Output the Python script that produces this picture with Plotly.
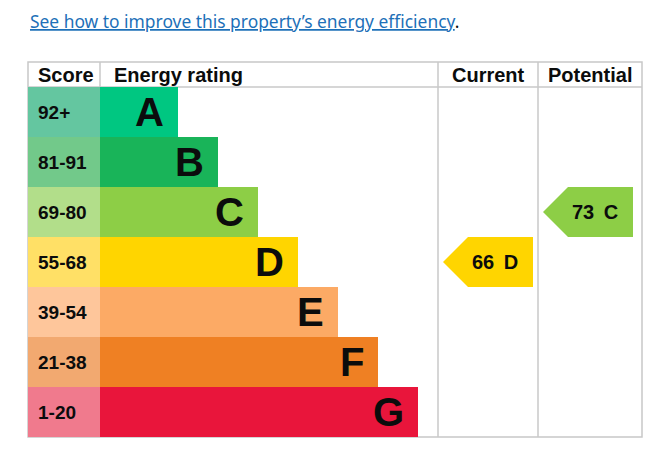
import plotly.graph_objects as go

# EPC rating bands, top (best) to bottom
ratings = ["A", "B", "C", "D", "E", "F", "G"]
score_bands = ["92+", "81-91", "69-80", "55-68", "39-54", "21-38", "1-20"]
band_min = [92, 81, 69, 55, 39, 21, 1]
bar_colours = ["#00c781", "#19b459", "#8dce46", "#ffd500", "#fcaa65", "#ef8023", "#e9153b"]
score_colours = ["#64c6a0", "#72c98a", "#b2de8a", "#ffe066", "#fec69b", "#f2a970", "#f07a8d"]
headers = ["Score", "Energy rating", "Current", "Potential"]

current_score = 66
potential_score = 73

link_text = "See how to improve this property’s energy efficiency"

# Layout of the table, in pixels from the table's left edge
score_w = 72
col_rating_end = 410
col_current_end = 510
col_potential_end = 614
bar_first = 78
bar_step = 40
arrow_len = 90
arrow_head = 25
grid_col = "#c8c8c8"
font_family = "Arial, Liberation Sans, sans-serif"

rows = list(range(len(ratings)))
bar_len = [bar_first + bar_step * i for i in rows]


def band_of(score):
    for i, lo in enumerate(band_min):
        if score >= lo:
            return i
    return len(band_min) - 1


fig = go.Figure()

# Score column cells
fig.add_trace(go.Bar(
    y=rows, x=[score_w] * len(rows), base=0, orientation="h", width=1,
    marker=dict(color=score_colours, line=dict(width=0)), hoverinfo="skip"))

# Energy rating bars
fig.add_trace(go.Bar(
    y=rows, x=bar_len, base=score_w, orientation="h", width=1,
    marker=dict(color=bar_colours, line=dict(width=0)), hoverinfo="skip"))

annotations = []
for i in rows:
    annotations.append(dict(x=8, y=i, text="<b>%s</b>" % score_bands[i], xanchor="left",
                            showarrow=False, font=dict(size=19, color="#0b0c0c", family=font_family)))
    annotations.append(dict(x=score_w + bar_len[i], y=i, text="<b>%s</b>" % ratings[i],
                            xanchor="right", xshift=-12, showarrow=False,
                            font=dict(size=40, color="#0b0c0c", family=font_family)))

# Current / potential arrows
for score, col_left in [(current_score, col_rating_end), (potential_score, col_current_end)]:
    i = band_of(score)
    x0 = col_left + 5
    xs = [x0, x0 + arrow_head, x0 + arrow_len, x0 + arrow_len, x0 + arrow_head, x0]
    ys = [i, i - 0.5, i - 0.5, i + 0.5, i + 0.5, i]
    fig.add_trace(go.Scatter(x=xs, y=ys, fill="toself", fillcolor=bar_colours[i], mode="lines",
                             line=dict(width=0), hoverinfo="skip"))
    annotations.append(dict(x=x0 + 52, y=i, text="<b>%d\u2009 %s</b>" % (score, ratings[i]),
                            showarrow=False, font=dict(size=20, color="#0b0c0c", family=font_family)))

# Header row
header_y = -0.75
header_x = [8, score_w + 12, (col_rating_end + col_current_end) / 2, (col_current_end + col_potential_end) / 2]
header_anchor = ["left", "left", "center", "center"]
for h, hx, ha in zip(headers, header_x, header_anchor):
    annotations.append(dict(x=hx, y=header_y, text="<b>%s</b>" % h, xanchor=ha, showarrow=False,
                            font=dict(size=20, color="#0b0c0c", family=font_family)))

# Link above the table
annotations.append(dict(
    x=0, y=-1.82, xanchor="left",
    text='<span style="text-decoration:underline">%s</span><span style="color:#0b0c0c">.</span>' % link_text,
    showarrow=False, font=dict(size=17.4, color="#1d70b8", family="Noto Sans, sans-serif")))

line = dict(color=grid_col, width=1.5)
shapes = [
    dict(type="rect", x0=0, x1=col_potential_end, y0=-1, y1=len(rows) - 0.5, line=line, layer="below"),
    dict(type="line", x0=0, x1=col_potential_end, y0=-0.5, y1=-0.5, line=line, layer="below"),
    dict(type="line", x0=score_w, x1=score_w, y0=-1, y1=-0.5, line=line, layer="below"),
    dict(type="line", x0=col_rating_end, x1=col_rating_end, y0=-1, y1=len(rows) - 0.5, line=line, layer="below"),
    dict(type="line", x0=col_current_end, x1=col_current_end, y0=-1, y1=len(rows) - 0.5, line=line, layer="below"),
]

fig.update_layout(
    width=652, height=458,
    margin=dict(l=0, r=0, t=0, b=0),
    paper_bgcolor="white", plot_bgcolor="white",
    showlegend=False, barmode="overlay",
    xaxis=dict(range=[-28, 624], visible=False, fixedrange=True),
    yaxis=dict(range=[6.92, -2.24], visible=False, fixedrange=True),
    annotations=annotations, shapes=shapes,
)

fig.write_html("out.html", config={"displayModeBar": False},
               post_script="document.body.style.margin='0';")
